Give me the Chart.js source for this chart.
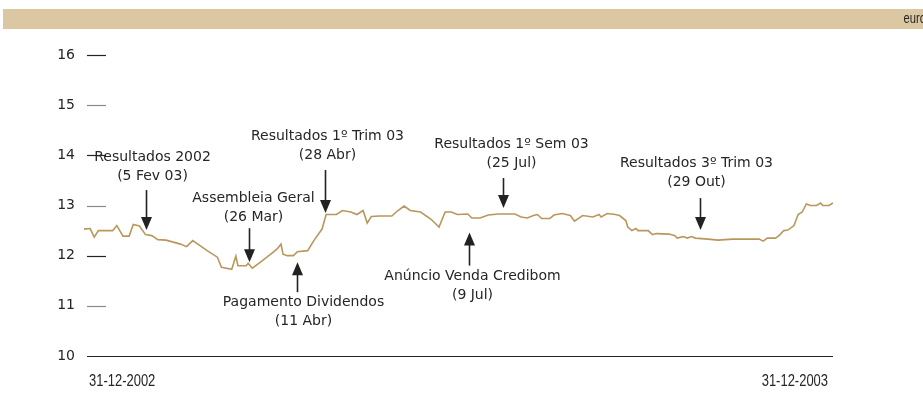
<!DOCTYPE html>
<html>
<head>
<meta charset="utf-8">
<script src="https://cdn.jsdelivr.net/npm/chart.js@4/dist/chart.umd.min.js"></script>
<style>
  html, body { margin: 0; padding: 0; background: #fff; }
  canvas { display: block; }
</style>
</head>
<body>
<canvas id="priceChart" width="923" height="401"></canvas>
<script>
// dias desde 31-12-2002 e cotação (euro)
const days = [0, 3, 5, 7, 14, 16, 19, 22, 24, 27, 30, 33, 36, 40, 47, 50, 53, 60, 65, 67, 72, 74, 75, 79, 80, 82, 86, 91, 94, 96, 97, 99, 102, 104, 109, 112, 116, 118, 123, 126, 130, 133, 136, 138, 140, 144, 150, 153, 156, 159, 164, 169, 173, 176, 179, 182, 187, 189, 193, 197, 202, 210, 213, 216, 219, 221, 223, 227, 229, 233, 237, 239, 243, 248, 251, 252, 255, 259, 261, 264, 265, 267, 269, 270, 275, 277, 279, 285, 288, 289, 292, 294, 296, 298, 304, 309, 316, 321, 329, 331, 333, 337, 339, 341, 343, 346, 348, 350, 352, 354, 357, 359, 360, 363, 365];
const prices = [12.53, 12.54, 12.37, 12.5, 12.5, 12.6, 12.39, 12.39, 12.62, 12.59, 12.42, 12.4, 12.32, 12.31, 12.23, 12.18, 12.3, 12.1, 11.97, 11.77, 11.73, 11.99, 11.8, 11.8, 11.85, 11.75, 11.87, 12.03, 12.13, 12.23, 12.03, 12.0, 12.0, 12.08, 12.1, 12.3, 12.53, 12.82, 12.82, 12.9, 12.87, 12.82, 12.9, 12.65, 12.78, 12.79, 12.79, 12.9, 12.99, 12.9, 12.87, 12.73, 12.57, 12.87, 12.87, 12.82, 12.83, 12.75, 12.75, 12.81, 12.83, 12.83, 12.77, 12.75, 12.8, 12.82, 12.74, 12.74, 12.81, 12.84, 12.8, 12.69, 12.8, 12.77, 12.82, 12.77, 12.84, 12.82, 12.8, 12.7, 12.57, 12.5, 12.54, 12.5, 12.5, 12.42, 12.44, 12.43, 12.4, 12.35, 12.38, 12.35, 12.38, 12.35, 12.33, 12.31, 12.33, 12.33, 12.33, 12.29, 12.35, 12.35, 12.41, 12.5, 12.51, 12.6, 12.82, 12.87, 13.03, 13.0, 13.0, 13.05, 13.0, 13.0, 13.05];

const yTicks = [10, 11, 12, 13, 14, 15, 16];
const xLabels = ['31-12-2002', '31-12-2003'];

// anotações: texto, data, posição (dia) e valor onde toca a seta
const annTitles = ['Resultados 2002', 'Assembleia Geral', 'Resultados 1º Trim 03', 'Pagamento Dividendos', 'Resultados 1º Sem 03', 'Anúncio Venda Credibom', 'Resultados 3º Trim 03'];
const annDates = ['(5 Fev 03)', '(26 Mar)', '(28 Abr)', '(11 Abr)', '(25 Jul)', '(9 Jul)', '(29 Out)'];
const annDays = [30.2, 80.4, 117.4, 103.8, 204.2, 187.6, 300.2];
const annValues = [12.51, 11.87, 12.85, 11.87, 12.95, 12.46, 12.51];
const annDir = ['down', 'down', 'down', 'up', 'down', 'up', 'down'];

// desenho das anotações (px): comprimento da seta, distância ao texto, desvio do texto
const annLayout = [
  { len: 40, gap: 54, dx: 6 },
  { len: 34, gap: 45, dx: 4 },
  { len: 43, gap: 58, dx: 2 },
  { len: 30, gap: 40, dx: 6 },
  { len: 30, gap: 45, dx: 8 },
  { len: 33, gap: 44, dx: 3 },
  { len: 32, gap: 48, dx: -4 }
];

const labelFont = '14px "DejaVu Sans", sans-serif';
const textColor = '#262626';

// texto estreito (a fonte original é condensada)
function narrowText(ctx, text, x, y, align, size, sx) {
  ctx.save();
  ctx.font = size + 'px "Liberation Sans", sans-serif';
  ctx.textAlign = align;
  ctx.textBaseline = 'middle';
  ctx.translate(x, y);
  ctx.scale(sx, 1);
  ctx.fillText(text, 0, 0);
  ctx.restore();
}

const decorations = {
  id: 'decorations',
  beforeDraw(chart) {
    const ctx = chart.ctx;
    ctx.save();
    ctx.fillStyle = '#dcc7a3';
    ctx.fillRect(3, 9, 920, 20);
    ctx.fillStyle = textColor;
    narrowText(ctx, 'euro', 926, 19, 'right', 14, 0.8);

    const y = chart.scales.y;
    yTicks.forEach(v => {
      const py = Math.round(y.getPixelForValue(v)) + 0.5;
      ctx.strokeStyle = (v % 2 === 0) ? '#222' : '#8a8a8a';
      ctx.lineWidth = 1.2;
      ctx.beginPath();
      ctx.moveTo(87, py);
      ctx.lineTo(v === 10 ? chart.chartArea.right : 106, py);
      ctx.stroke();
    });

    const x = chart.scales.x;
    ctx.fillStyle = textColor;
    narrowText(ctx, xLabels[0], x.getPixelForValue(0) + 5, 382, 'left', 16, 0.81);
    narrowText(ctx, xLabels[1], x.getPixelForValue(365) - 5, 382, 'right', 16, 0.81);
    ctx.restore();
  },
  afterDatasetsDraw(chart) {
    const ctx = chart.ctx;
    const xs = chart.scales.x, ys = chart.scales.y;
    ctx.save();
    ctx.font = labelFont;
    ctx.textAlign = 'center';
    ctx.textBaseline = 'middle';
    annTitles.forEach((t, i) => {
      const lay = annLayout[i];
      const px = Math.round(xs.getPixelForValue(annDays[i])) + 0.5;
      const tip = ys.getPixelForValue(annValues[i]);
      const s = annDir[i] === 'down' ? -1 : 1;
      const tail = tip + s * lay.len;
      ctx.strokeStyle = '#222';
      ctx.fillStyle = '#222';
      ctx.lineWidth = 1.6;
      ctx.beginPath();
      ctx.moveTo(px, tail);
      ctx.lineTo(px, tip + s * 10);
      ctx.stroke();
      ctx.beginPath();
      ctx.moveTo(px, tip);
      ctx.lineTo(px - 5.5, tip + s * 13);
      ctx.lineTo(px + 5.5, tip + s * 13);
      ctx.closePath();
      ctx.fill();

      ctx.fillStyle = textColor;
      const tx = px + lay.dx;
      if (s < 0) {
        ctx.fillText(annDates[i], tx, tip - lay.gap);
        ctx.fillText(t, tx, tip - lay.gap - 19);
      } else {
        ctx.fillText(t, tx, tip + lay.gap);
        ctx.fillText(annDates[i], tx, tip + lay.gap + 19);
      }
    });
    ctx.restore();
  }
};

new Chart(document.getElementById('priceChart'), {
  type: 'line',
  data: {
    datasets: [{
      data: days.map((d, i) => ({ x: d, y: prices[i] })),
      borderColor: '#b9975c',
      borderWidth: 1.6,
      pointRadius: 0,
      tension: 0,
      fill: false
    }]
  },
  options: {
    responsive: false,
    animation: false,
    layout: { padding: { top: 55, right: 90, left: 0, bottom: 0 } },
    plugins: { legend: { display: false }, tooltip: { enabled: false } },
    scales: {
      x: {
        type: 'linear',
        min: 0,
        max: 365,
        grid: { display: false, drawTicks: false },
        border: { display: false },
        afterFit: s => { s.height = 45; },
        ticks: { display: false }
      },
      y: {
        min: 10,
        max: 16,
        afterFit: s => { s.width = 84; },
        afterBuildTicks: s => { s.ticks = yTicks.map(v => ({ value: v })); },
        grid: { display: false, drawTicks: false },
        border: { display: false },
        ticks: {
          padding: 9,
          color: textColor,
          font: { family: '"DejaVu Sans", sans-serif', size: 14 }
        }
      }
    }
  },
  plugins: [decorations]
});
</script>
</body>
</html>
